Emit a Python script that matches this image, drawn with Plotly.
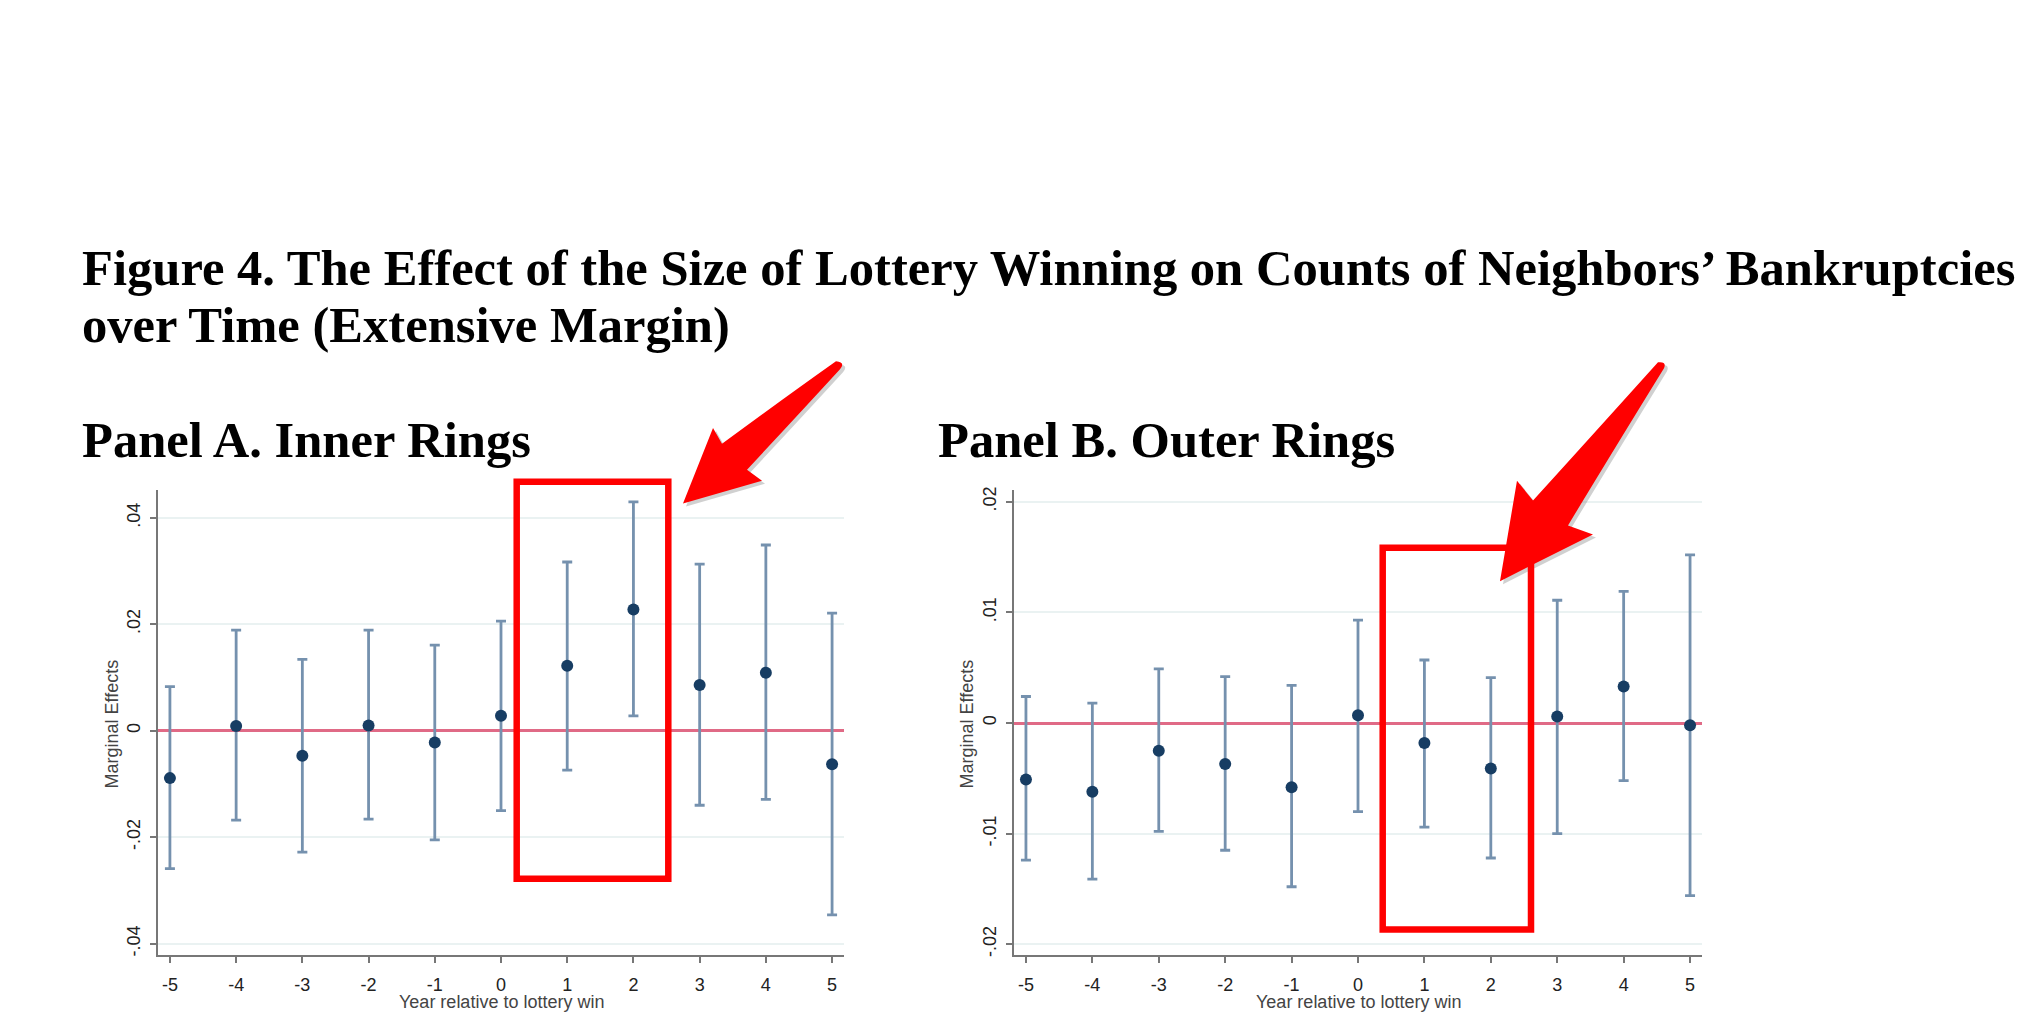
import plotly.graph_objects as go

W, H = 2044, 1031

years = [-5, -4, -3, -2, -1, 0, 1, 2, 3, 4, 5]
year_labels = ["-5", "-4", "-3", "-2", "-1", "0", "1", "2", "3", "4", "5"]

# Panel A: Inner rings
inner_est = [-0.0089, 0.0009, -0.0047, 0.0010, -0.0022, 0.0028, 0.0122, 0.0228, 0.0086, 0.0109, -0.0063]
inner_hi = [0.0083, 0.0189, 0.0134, 0.0189, 0.0161, 0.0206, 0.0317, 0.0430, 0.0313, 0.0349, 0.0221]
inner_lo = [-0.0259, -0.0168, -0.0228, -0.0166, -0.0205, -0.0150, -0.0074, 0.0028, -0.0140, -0.0129, -0.0346]
inner_ticks = [-0.04, -0.02, 0, 0.02, 0.04]
inner_ticktext = ["-.04", "-.02", "0", ".02", ".04"]

# Panel B: Outer rings
outer_est = [-0.0051, -0.0062, -0.0025, -0.0037, -0.0058, 0.0007, -0.0018, -0.0041, 0.0006, 0.0033, -0.0002]
outer_hi = [0.0024, 0.0018, 0.0049, 0.0042, 0.0034, 0.0093, 0.0057, 0.0041, 0.0111, 0.0119, 0.0152]
outer_lo = [-0.0124, -0.0141, -0.0098, -0.0115, -0.0148, -0.0080, -0.0094, -0.0122, -0.0100, -0.0052, -0.0156]
outer_ticks = [-0.02, -0.01, 0, 0.01, 0.02]
outer_ticktext = ["-.02", "-.01", "0", ".01", ".02"]

title_line1 = "Figure 4. The Effect of the Size of Lottery Winning on Counts of Neighbors\u2019 Bankruptcies"
title_line2 = "over Time (Extensive Margin)"
panel_a = "Panel A. Inner Rings"
panel_b = "Panel B. Outer Rings"
x_title = "Year relative to lottery win"
y_title = "Marginal Effects"

MARK = "#173d63"
BAR = "#7591ae"
ZERO = "#e06a86"
GRID = "#eaf2f2"
AXIS = "#777777"
RED = "#ff0000"


def px(x):
    return x / W


def py(y):
    return 1 - y / H


fig = go.Figure()


def add_panel(est, hi, lo, xa, ya):
    plus = [h - e for h, e in zip(hi, est)]
    minus = [e - l for e, l in zip(est, lo)]
    fig.add_trace(go.Scatter(
        x=years, y=est, mode="markers", xaxis=xa, yaxis=ya,
        marker=dict(color=MARK, size=12),
        error_y=dict(type="data", symmetric=False, array=plus, arrayminus=minus,
                     color=BAR, thickness=2.8, width=5),
        showlegend=False, hoverinfo="x+y",
    ))


add_panel(inner_est, inner_hi, inner_lo, "x", "y")
add_panel(outer_est, outer_hi, outer_lo, "x2", "y2")

axis_font = dict(family="Liberation Sans, Arial, sans-serif", size=18, color="#222222")

xcommon = dict(range=[-5.18, 5.18], tickvals=years, ticktext=year_labels,
               showgrid=False, zeroline=False, showline=True, linecolor=AXIS, linewidth=2,
               ticks="outside", ticklen=6, tickwidth=1.5, tickcolor=AXIS, tickfont=axis_font,
               ticklabelstandoff=6)
ycommon = dict(showgrid=True, gridcolor=GRID, gridwidth=2, zeroline=True,
               zerolinecolor=ZERO, zerolinewidth=3.2, showline=True, linecolor=AXIS, linewidth=2,
               ticks="outside", ticklen=6, tickwidth=1.5, tickcolor=AXIS, tickfont=axis_font,
               tickangle=-90, ticklabelstandoff=3)

fig.update_layout(
    width=W, height=H, margin=dict(l=0, r=0, t=0, b=0),
    paper_bgcolor="white", plot_bgcolor="white",
    xaxis=dict(domain=[px(158), px(844)], anchor="y", **xcommon),
    yaxis=dict(domain=[py(957), py(489)], anchor="x", range=[-0.0422, 0.0453],
               tickvals=inner_ticks, ticktext=inner_ticktext, **ycommon),
    xaxis2=dict(domain=[px(1014), px(1702)], anchor="y2", **xcommon),
    yaxis2=dict(domain=[py(957), py(489)], anchor="x2", range=[-0.0210, 0.0211],
                tickvals=outer_ticks, ticktext=outer_ticktext, **ycommon),
)

serif = dict(family="Liberation Serif, Times New Roman, serif", size=50.6, color="black")
ann = [
    dict(text="<b>%s</b>" % title_line1, x=px(80), y=py(266), xanchor="left", yanchor="middle"),
    dict(text="<b>%s</b>" % title_line2, x=px(80), y=py(324), xanchor="left", yanchor="middle"),
    dict(text="<b>%s</b>" % panel_a, x=px(80), y=py(439), xanchor="left", yanchor="middle"),
    dict(text="<b>%s</b>" % panel_b, x=px(936), y=py(439), xanchor="left", yanchor="middle"),
]
annotations = []
for a in ann:
    a.update(xref="paper", yref="paper", showarrow=False, font=serif)
    annotations.append(a)

title_font = dict(family="Liberation Sans, Arial, sans-serif", size=18, color="#444444")
for cx, ax_x in [(501, 112), (1358, 967)]:
    annotations.append(dict(text=x_title, x=px(cx), y=py(1004), xref="paper", yref="paper",
                            xanchor="center", yanchor="middle", showarrow=False, font=title_font))
    annotations.append(dict(text=y_title, x=px(ax_x), y=py(725), xref="paper", yref="paper",
                            xanchor="center", yanchor="middle", showarrow=False, font=title_font,
                            textangle=-90))
fig.update_layout(annotations=annotations)


def path_from(cmds):
    out = []
    for c in cmds:
        op = c[0]
        pts = c[1:]
        s = op
        for i in range(0, len(pts), 2):
            s += " %.5f,%.5f" % (px(pts[i]), py(pts[i + 1]))
        out.append(s)
    return " ".join(out) + " Z"


arrow_a = [
    ("M", 836, 360),
    ("Q", 846, 361, 840, 368),
    ("Q", 798, 414, 747, 469),
    ("L", 762, 480),
    ("L", 683, 503),
    ("L", 713, 427),
    ("L", 722, 443),
    ("Q", 784, 397, 836, 360),
]
arrow_b = [
    ("M", 1658, 361),
    ("Q", 1667, 360, 1664, 367),
    ("Q", 1610, 455, 1568, 525),
    ("L", 1593, 534),
    ("L", 1500, 581),
    ("L", 1517, 480),
    ("L", 1533, 500),
    ("Q", 1598, 428, 1658, 361),
]


def shifted(cmds, dx, dy):
    res = []
    for c in cmds:
        pts = list(c[1:])
        for i in range(0, len(pts), 2):
            pts[i] += dx
            pts[i + 1] += dy
        res.append((c[0], *pts))
    return res


shapes = []
for arr in (arrow_a, arrow_b):
    shapes.append(dict(type="path", xref="paper", yref="paper", path=path_from(shifted(arr, 3, 3)),
                       fillcolor="rgba(120,120,120,0.35)", line=dict(width=0), layer="above"))
    shapes.append(dict(type="path", xref="paper", yref="paper", path=path_from(arr),
                       fillcolor=RED, line=dict(width=0), layer="above"))

for (x0, y0, x1, y1) in [(516.7, 481, 668.3, 880), (1382.7, 547.3, 1531, 931)]:
    shapes.append(dict(type="rect", xref="paper", yref="paper",
                       x0=px(x0), x1=px(x1), y0=py(y0), y1=py(y1),
                       line=dict(color=RED, width=6.5), fillcolor="rgba(0,0,0,0)", layer="above"))

fig.update_layout(shapes=shapes)

fig.write_html("out.html")
